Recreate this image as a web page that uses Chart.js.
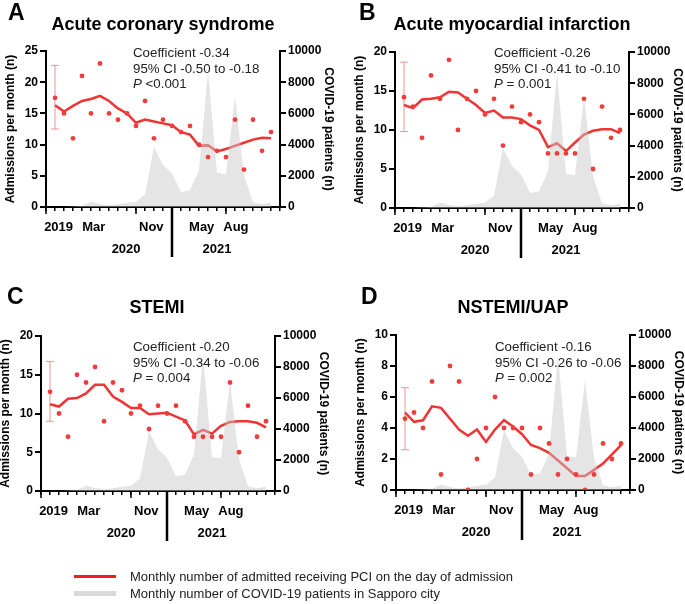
<!DOCTYPE html>
<html>
<head>
<meta charset="utf-8">
<script src="https://cdn.jsdelivr.net/npm/chart.js@4.4.0/dist/chart.umd.min.js"></script>
<style>
body { margin: 0; background: #fff; }
#wrap { position: relative; width: 685px; height: 604px; overflow: hidden; font-family: "Liberation Sans", Arial, sans-serif; }
#wrap canvas { position: absolute; }
.leg { position: absolute; left: 74px; height: 16px; line-height: 16px; font-size: 13px; color: #222; white-space: nowrap; }
.leg span { position: absolute; left: 0; width: 42px; }
.leg .red { top: 6px; height: 3px; background: #f21c1c; }
.leg .grey { top: 5px; height: 5px; background: #d9d9d9; }
.leg b { font-weight: normal; position: absolute; left: 56px; }
</style>
</head>
<body>
<div id="wrap">
  <canvas id="chartA" width="336" height="285" style="left:0;top:0"></canvas>
  <canvas id="chartB" width="336" height="285" style="left:349px;top:0"></canvas>
  <canvas id="chartC" width="336" height="285" style="left:-5px;top:284px"></canvas>
  <canvas id="chartD" width="336" height="285" style="left:350px;top:284px"></canvas>
  <div class="leg" style="top:569px"><span class="red"></span><b>Monthly number of admitted receiving PCI on the day of admission</b></div>
  <div class="leg" style="top:586px"><span class="grey"></span><b>Monthly number of COVID-19 patients in Sapporo city</b></div>
</div>
<script>
// months: 2019 average, then Jan 2020 .. Dec 2021
const months = ['2019', 'Jan 2020', 'Feb 2020', 'Mar 2020', 'Apr 2020', 'May 2020', 'Jun 2020',
    'Jul 2020', 'Aug 2020', 'Sep 2020', 'Oct 2020', 'Nov 2020', 'Dec 2020', 'Jan 2021', 'Feb 2021',
    'Mar 2021', 'Apr 2021', 'May 2021', 'Jun 2021', 'Jul 2021', 'Aug 2021', 'Sep 2021', 'Oct 2021',
    'Nov 2021', 'Dec 2021'];

const covidPatients = [0, 0, 40, 60, 360, 200, 100, 170, 280, 340, 800, 3850, 2700, 2150, 960,
    1070, 2350, 8700, 2200, 2100, 7100, 2050, 300, 170, 280];

const acsCounts = [17.5, 15, 11, 21, 15, 23, 15, 14, 15, 13, 17, 11, 14, 13, 12, 13, 10, 8, 9, 8, 14, 6, 14, 9, 12];
const acsTrend = [16.3, 15.3, 16.2, 17.0, 17.3, 17.8, 17.0, 15.8, 15.0, 13.5, 14.0, 13.7, 13.4, 13.1,
    12.0, 11.6, 9.8, 9.9, 8.9, 9.3, 9.8, 10.3, 10.8, 11.1, 11.0];
const acsError = [12.5, 22.7];

const amiCounts = [14.2, 13, 9, 17, 14, 19, 10, 14, 15, 12, 14, 8, 13, 11, 12, 11, 7, 7, 7, 7, 14, 5, 13, 9, 10];
const amiTrend = [13.2, 12.8, 13.9, 14.0, 14.2, 14.9, 14.8, 14.0, 13.2, 12.2, 12.5, 11.6, 11.6, 11.4,
    10.6, 10.0, 7.8, 8.3, 7.3, 8.4, 9.4, 9.9, 10.1, 10.1, 9.6];
const amiError = [9.8, 18.7];

const stemiCounts = [12.8, 10, 7, 15, 14, 16, 9, 14, 13, 10, 11, 8, 11, 10, 11, 9, 7, 7, 7, 7, 14, 5, 11, 7, 9];
const stemiTrend = [11.2, 10.9, 11.9, 12.0, 12.6, 13.7, 13.7, 12.2, 11.5, 10.7, 10.7, 9.9, 10.0, 10.1,
    9.6, 9.1, 7.3, 7.9, 7.4, 8.4, 8.9, 9.0, 9.0, 8.8, 8.2];
const stemiError = [9.0, 16.7];

const nstemiCounts = [4.6, 5, 4, 7, 1, 8, 7, 0, 2, 4, 6, 4, 4, 4, 1, 4, 3, 1, 2, 1, 0, 1, 3, 2, 3];
const nstemiTrend = [5.0, 4.4, 4.5, 5.4, 5.3, 4.6, 3.9, 3.5, 3.9, 3.1, 3.9, 4.5, 4.1, 3.6,
    2.9, 2.7, 2.4, 1.9, 1.4, 0.9, 0.9, 1.3, 1.7, 2.3, 2.9];
const nstemiError = [2.6, 6.6];

// x axis labels (axis units: 1 = 2019 ... 25 = Dec 2021)
const monthTicks = ['2019', 'Mar', 'Nov', 'May', 'Aug'];
const monthTickAt = [1.4, 5.3, 11.7, 17.3, 21.1];
const yearTicks = ['2020', '2021'];
const yearTickAt = [8.9, 19];
const yearBreakAt = 14;
const majorTickAt = [0, 10, 20];

const FONT = '"Liberation Sans", Arial, sans-serif';

function toXY(vals) {
    return vals.map((v, i) => ({ x: i + 1, y: v }));
}

// letters, titles, stats text, major ticks and the 2020/2021 divider
const panelText = {
    id: 'panelText',
    afterDraw(chart, args, o) {
        const ctx = chart.ctx;
        const xs = chart.scales.x;
        const b = chart.chartArea.bottom;
        ctx.save();
        ctx.fillStyle = '#000';
        ctx.textAlign = 'left';
        ctx.textBaseline = 'alphabetic';
        ctx.font = 'bold 23px ' + FONT;
        ctx.fillText(o.letter, o.letterX, 20);

        ctx.textAlign = 'center';
        ctx.textBaseline = 'middle';
        ctx.font = 'bold 18px ' + FONT;
        ctx.fillText(o.title, o.titleX, o.titleY);

        ctx.textAlign = 'left';
        ctx.fillStyle = '#222';
        ctx.font = '13.3px ' + FONT;
        ctx.fillText(o.stats[0], o.statsX, o.statsY);
        ctx.fillText(o.stats[1], o.statsX, o.statsY + 16);
        ctx.font = 'italic 13.3px ' + FONT;
        ctx.fillText('P', o.statsX, o.statsY + 31.5);
        const pw = ctx.measureText('P').width;
        ctx.font = '13.3px ' + FONT;
        ctx.fillText(o.stats[2], o.statsX + pw, o.statsY + 31.5);

        ctx.strokeStyle = '#000';
        ctx.lineWidth = 1.5;
        majorTickAt.forEach(v => {
            const px = xs.getPixelForValue(v);
            ctx.beginPath();
            ctx.moveTo(px, b);
            ctx.lineTo(px, b + 7);
            ctx.stroke();
        });

        const dx = xs.getPixelForValue(yearBreakAt);
        ctx.lineWidth = 2.5;
        ctx.beginPath();
        ctx.moveTo(dx, b);
        ctx.lineTo(dx, b + 50);
        ctx.stroke();
        ctx.restore();
    }
};

function drawPanel(id, p) {
    const tickFont = { family: FONT, weight: 'bold', size: 12 };
    const labelFont = { family: FONT, weight: 'bold', size: 13 };
    new Chart(document.getElementById(id), {
        data: {
            datasets: [
                {
                    type: 'line', data: toXY(p.counts), showLine: false,
                    pointRadius: 2.4, pointBorderWidth: 0, pointBackgroundColor: '#f23c3c',
                    xAxisID: 'x', yAxisID: 'y', order: 0
                },
                {
                    type: 'line', data: toXY(covidPatients), fill: 'origin',
                    backgroundColor: 'rgba(200,200,200,0.47)', borderWidth: 0, pointRadius: 0,
                    xAxisID: 'x', yAxisID: 'y2', order: 1
                },
                {
                    type: 'line', data: toXY(p.trend), borderColor: '#f03434', borderWidth: 2.5,
                    pointRadius: 0, fill: false, xAxisID: 'x', yAxisID: 'y', order: 2
                },
                {
                    type: 'line', data: [{ x: 1, y: p.err[0] }, { x: 1, y: p.err[1] }],
                    borderColor: 'rgba(236,90,90,0.65)', borderWidth: 1,
                    pointStyle: 'line', pointRadius: 4, pointBorderWidth: 1,
                    pointBorderColor: 'rgba(236,90,90,0.65)', fill: false,
                    xAxisID: 'x', yAxisID: 'y', order: 3
                }
            ]
        },
        options: {
            responsive: false,
            animation: false,
            layout: { padding: { top: p.top, bottom: 285 - p.bottom - 48, left: 0, right: 0 } },
            plugins: {
                legend: { display: false },
                tooltip: { enabled: false },
                panelText: p.text
            },
            scales: {
                x: {
                    type: 'linear', position: 'bottom', min: 0, max: 26, weight: 0,
                    ticks: { display: false, stepSize: 1 },
                    grid: { drawOnChartArea: false, tickLength: 4, color: '#000', lineWidth: 1.5 },
                    border: { color: '#000', width: 2 },
                    afterFit(s) { s.height = 6; }
                },
                xm: {
                    type: 'linear', position: 'bottom', min: 0, max: 26, weight: 1,
                    grid: { display: false, drawTicks: false },
                    border: { display: false },
                    afterBuildTicks(s) { s.ticks = monthTickAt.map(v => ({ value: v })); },
                    ticks: {
                        autoSkip: false, maxRotation: 0, padding: 7, color: '#000', font: labelFont,
                        callback: (v, i) => monthTicks[i]
                    },
                    afterFit(s) { s.height = 22; }
                },
                xy: {
                    type: 'linear', position: 'bottom', min: 0, max: 26, weight: 2,
                    grid: { display: false, drawTicks: false },
                    border: { display: false },
                    afterBuildTicks(s) { s.ticks = yearTickAt.map(v => ({ value: v })); },
                    ticks: {
                        autoSkip: false, maxRotation: 0, padding: 7, color: '#000', font: labelFont,
                        callback: (v, i) => yearTicks[i]
                    },
                    afterFit(s) { s.height = 20; }
                },
                y: {
                    position: 'left', min: 0, max: p.yMax,
                    ticks: { stepSize: p.yStep, padding: 2, color: '#000', font: tickFont },
                    grid: { drawOnChartArea: false, tickLength: 6, color: '#000', lineWidth: 2 },
                    border: { color: '#000', width: 2 },
                    title: {
                        display: true, text: 'Admissions per month (n)', color: '#000',
                        font: tickFont, padding: { top: 3, bottom: 0 }
                    },
                    afterFit(s) { s.width = 46; }
                },
                y2: {
                    position: 'right', min: 0, max: 10000,
                    ticks: { stepSize: 2000, padding: 2, color: '#000', font: tickFont, callback: v => String(v) },
                    grid: { drawOnChartArea: false, tickLength: 6, color: '#000', lineWidth: 2 },
                    border: { color: '#000', width: 2 },
                    title: {
                        display: true, text: 'COVID-19 patients (n)', color: '#000',
                        font: tickFont, padding: { top: 0, bottom: 0 }
                    },
                    afterFit(s) { s.width = 56; }
                }
            }
        },
        plugins: [panelText]
    });
}

drawPanel('chartA', {
    counts: acsCounts, trend: acsTrend, err: acsError, yMax: 25, yStep: 5, top: 51, bottom: 207,
    text: {
        letter: 'A', letterX: 8, title: 'Acute coronary syndrome', titleX: 163, titleY: 25,
        stats: ['Coefficient -0.34', '95% CI -0.50 to -0.18', ' <0.001'], statsX: 133, statsY: 53
    }
});
drawPanel('chartB', {
    counts: amiCounts, trend: amiTrend, err: amiError, yMax: 20, yStep: 5, top: 52, bottom: 208,
    text: {
        letter: 'B', letterX: 10, title: 'Acute myocardial infarction', titleX: 163, titleY: 25,
        stats: ['Coefficient -0.26', '95% CI -0.41 to -0.10', ' = 0.001'], statsX: 145, statsY: 53
    }
});
drawPanel('chartC', {
    counts: stemiCounts, trend: stemiTrend, err: stemiError, yMax: 20, yStep: 5, top: 52, bottom: 207,
    text: {
        letter: 'C', letterX: 12, title: 'STEMI', titleX: 162, titleY: 24,
        stats: ['Coefficient -0.20', '95% CI -0.34 to -0.06', ' = 0.004'], statsX: 138, statsY: 63
    }
});
drawPanel('chartD', {
    counts: nstemiCounts, trend: nstemiTrend, err: nstemiError, yMax: 10, yStep: 2, top: 51, bottom: 206,
    text: {
        letter: 'D', letterX: 11, title: 'NSTEMI/UAP', titleX: 163, titleY: 24,
        stats: ['Coefficient -0.16', '95% CI -0.26 to -0.06', ' = 0.002'], statsX: 145, statsY: 63
    }
});
</script>
</body>
</html>
